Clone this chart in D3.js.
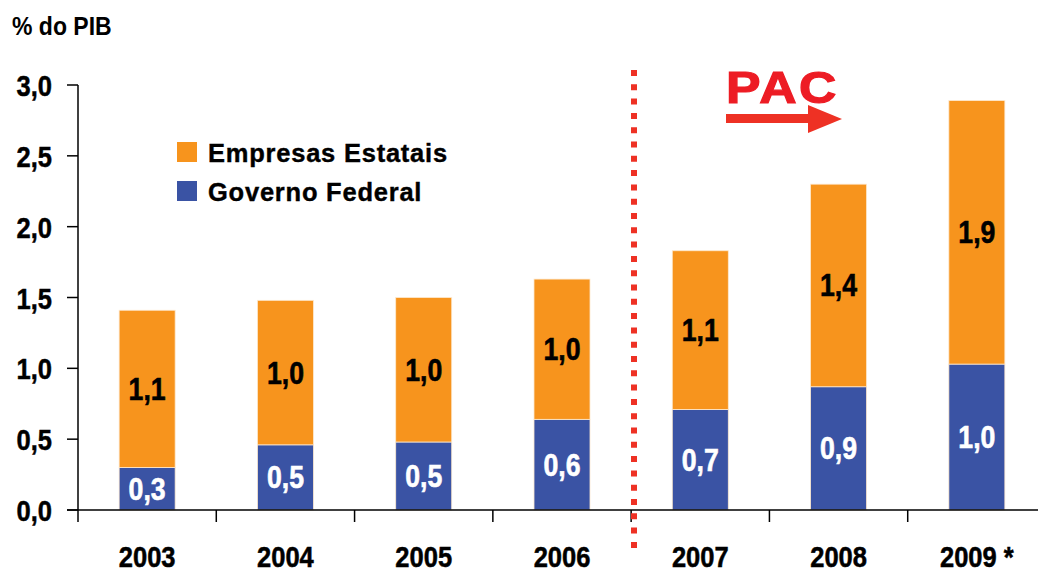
<!DOCTYPE html>
<html><head><meta charset="utf-8">
<script src="https://cdn.jsdelivr.net/npm/d3@7"></script>
<style>body{margin:0;background:#fff}svg{display:block}</style>
</head><body>
<svg id="c" width="1038" height="573"></svg>
<script>
const years = ["2003","2004","2005","2006","2007","2008","2009 *"];
const governoFederal = [0.30,0.46,0.48,0.64,0.71,0.87,1.03];
const empresasEstatais = [1.11,1.02,1.02,0.99,1.12,1.43,1.86];
const yTicks = [0,0.5,1.0,1.5,2.0,2.5,3.0];
const seriesNames = ["Empresas Estatais","Governo Federal"];
const colors = {"Empresas Estatais":"#F7941D","Governo Federal":"#3A53A4"};

const svg = d3.select("#c");
const FONT = "'Liberation Sans', Arial, sans-serif";
const fmt = v => d3.format(".1f")(v).replace(".", ",");

function txt(x, y, s, opt) {
  const g = svg.append("g").attr("transform", `translate(${x},${y}) scale(${opt.sx||0.86},1)`);
  const t = g.append("text").attr("x",0).attr("y",0)
    .attr("text-anchor", opt.anchor||"middle")
    .attr("font-family", FONT).attr("font-weight","bold")
    .attr("font-size", opt.size||30).attr("fill", opt.fill||"#000").text(s);
  if (opt.ls) t.attr("letter-spacing", opt.ls);
  if (opt.stroke) t.attr("stroke", opt.fill||"#000").attr("stroke-width", opt.stroke);
  return t;
}

const x = d3.scaleBand().domain(years).range([78, 1046]).paddingInner(0.595).paddingOuter(0.2975);
const y = d3.scaleLinear().domain([0,3]).range([510, 85]);

const data = years.map((yr,i)=>({yr, g:governoFederal[i], e:empresasEstatais[i]}));
const stack = d3.stack().keys(["g","e"])(data);

// bars
const keyName = {g:"Governo Federal", e:"Empresas Estatais"};
stack.forEach(layer=>{
  svg.append("g").selectAll("rect").data(layer).join("rect")
    .attr("x", d=>x(d.data.yr)).attr("width", x.bandwidth())
    .attr("y", d=>y(d[1])).attr("height", d=>y(d[0])-y(d[1]))
    .attr("fill", colors[keyName[layer.key]])
    .attr("stroke", "#fde9cf").attr("stroke-width", 0.8);
});

// value labels
stack.forEach(layer=>{
  layer.forEach(d=>{
    const cy = (y(d[0])+y(d[1]))/2;
    txt(x(d.data.yr)+x.bandwidth()/2, cy+11, fmt(d[1]-d[0]),
      {size:31, fill: layer.key==="g" ? "#fff" : "#000", sx:0.86, stroke:0.6});
  });
});

// y axis
svg.append("line").attr("x1",78).attr("x2",78).attr("y1",y(3)).attr("y2",y(0)).attr("stroke","#000").attr("stroke-width",1.5);
yTicks.forEach(t=>{
  svg.append("line").attr("x1",67).attr("x2",78).attr("y1",y(t)).attr("y2",y(t)).attr("stroke","#000").attr("stroke-width",1.5);
  txt(52, y(t)+11, fmt(t), {anchor:"end", size:30, sx:0.85, stroke:0.5});
});
// x axis
svg.append("line").attr("x1",67).attr("x2",1038).attr("y1",y(0)).attr("y2",y(0)).attr("stroke","#000").attr("stroke-width",1.5);
const step = x.step();
for (let k=0;k<=years.length;k++){
  const bx = 78 + k*step;
  svg.append("line").attr("x1",bx).attr("x2",bx).attr("y1",y(0)).attr("y2",522).attr("stroke","#000").attr("stroke-width",1.5);
}
years.forEach(yr=>{
  txt(x(yr)+x.bandwidth()/2, 567, yr, {size:29, sx:0.88, stroke:0.5});
});

// title
txt(12, 35, "% do PIB", {anchor:"start", size:25, sx:0.92});

// legend
seriesNames.forEach((n,i)=>{
  const ly = 142 + i*39;
  svg.append("rect").attr("x",177).attr("y",ly).attr("width",20).attr("height",20).attr("fill",colors[n]);
  txt(208, ly+20, n, {anchor:"start", size:26, sx:0.98, ls:0.8, stroke:0.4});
});

// dashed divider
svg.append("line").attr("x1",634).attr("x2",634).attr("y1",70).attr("y2",548)
  .attr("stroke","#EE3124").attr("stroke-width",6).attr("stroke-dasharray","6,8.3");

// PAC
txt(726, 103, "PAC", {anchor:"start", size:45, fill:"#ED1C24", sx:1.15, ls:2.2, stroke:1.2});
svg.append("rect").attr("x",726).attr("y",114).attr("width",88).attr("height",9).attr("fill","#EE3124");
svg.append("path").attr("d","M808,105 L842,119 L808,133 Z").attr("fill","#EE3124");
</script>
</body></html>
